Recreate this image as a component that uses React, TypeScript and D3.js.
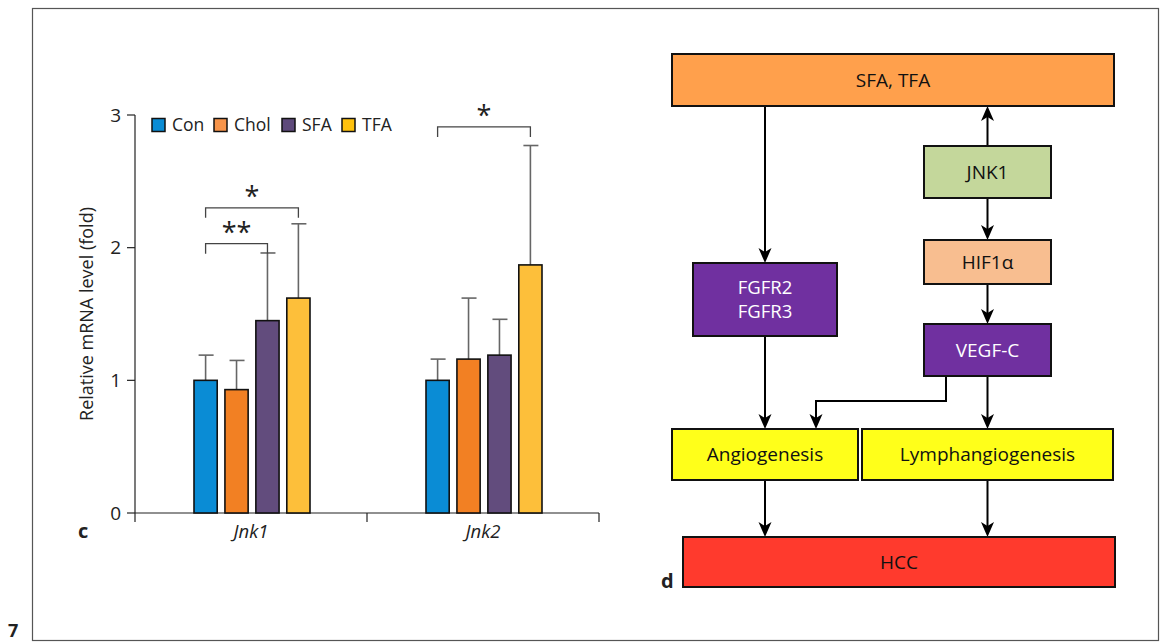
import * as d3 from "d3";

// chart c data
const GENES = ["Jnk1", "Jnk2"];
const GROUPS = ["Con", "Chol", "SFA", "TFA"];
const MEANS = [
  [1.0, 0.93, 1.45, 1.62],
  [1.0, 1.16, 1.19, 1.87],
];
const UPPER = [
  [1.19, 1.15, 1.96, 2.18],
  [1.16, 1.62, 1.46, 2.77],
];
const Y_TICKS = [0, 1, 2, 3];
// significance: gene index, from group, to group, label
const SIG = [
  { gene: 0, from: 0, to: 2, label: "**", level: 2.03 },
  { gene: 0, from: 0, to: 3, label: "*", level: 2.3 },
  { gene: 1, from: 0, to: 3, label: "*", level: 2.91 },
];

// diagram d nodes
const NODES = ["SFA, TFA", "JNK1", "HIF1α", "FGFR2\nFGFR3", "VEGF-C", "Angiogenesis", "Lymphangiogenesis", "HCC"];
const NODE_FILL = ["#ffa04c", "#c4d79b", "#f8be90", "#7030a0", "#7030a0", "#ffff1a", "#ffff1a", "#ff3a2d"];

const COLORS = ["#0a8cd5", "#f28023", "#624c7d", "#fdbf3a"];
const LEGEND_COLORS = ["#0a8cd5", "#f7944a", "#5e4a7b", "#ffc20e"];
const FONT = "'Open Sans', 'Noto Sans', sans-serif";

// node boxes [x0, y0, x1, y1]
const BOX: Record<string, [number, number, number, number]> = {
  "SFA, TFA": [672, 54, 1114, 106],
  JNK1: [924, 146, 1051, 198],
  "HIF1α": [924, 240, 1051, 284],
  "FGFR2\nFGFR3": [693, 263, 837, 336],
  "VEGF-C": [924, 324, 1051, 376],
  Angiogenesis: [672, 429, 858, 480],
  Lymphangiogenesis: [862, 429, 1113, 480],
  HCC: [683, 537, 1115, 587],
};

function Arrow({ pts }: { pts: [number, number][] }) {
  const line = d3.line();
  const [x1, y1] = pts[pts.length - 1];
  const [x0, y0] = pts[pts.length - 2];
  const dir = Math.sign(y1 - y0);
  const head = `M${x1},${y1} L${x1 - 6.5},${y1 - dir * 15} L${x1},${y1 - dir * 11} L${x1 + 6.5},${y1 - dir * 15} Z`;
  const shaft = pts.slice(0, -1).concat([[x1, y1 - dir * 11]]) as [number, number][];
  return (
    <g>
      <path d={line(shaft) ?? ""} fill="none" stroke="#000" strokeWidth={2} />
      <path d={head} fill="#000" />
    </g>
  );
}

export default function App() {
  const y = d3.scaleLinear().domain([0, 3]).range([513, 115]);
  const x = d3.scaleBand().domain(GENES).range([135, 599]);
  const xi = d3.scaleBand().domain(GROUPS).range([-57, 59]).paddingInner(0.25);
  const bw = xi.bandwidth();
  const cx = (g: number, s: number) => (x(GENES[g]) ?? 0) + x.bandwidth() / 2 + (xi(GROUPS[s]) ?? 0) + bw / 2;

  const b = BOX;
  const mid = (k: string) => (b[k][0] + b[k][2]) / 2;

  return (
    <div style={{ position: "absolute", left: 0, top: 0 }}>
      <svg width={1166} height={642} style={{ display: "block", fontFamily: FONT }}>
        <rect x={0} y={0} width={1166} height={642} fill="#fff" />
        <rect x={32.5} y={8.5} width={1126} height={632} fill="none" stroke="#555" strokeWidth={1.2} />
        <text x={8} y={637} fontSize={18} fontWeight={700} fill="#222">7</text>

        {/* panel c */}
        <g>
          {/* y axis */}
          <line x1={135} x2={135} y1={y(3)} y2={y(0)} stroke="#222" strokeWidth={1.2} />
          {Y_TICKS.map((t) => (
            <g key={t}>
              <line x1={127} x2={135} y1={y(t)} y2={y(t)} stroke="#222" strokeWidth={1.2} />
              <text x={121} y={y(t)} dy="0.35em" textAnchor="end" fontSize={19} fill="#222">{t}</text>
            </g>
          ))}
          {/* x axis */}
          <line x1={135} x2={599} y1={y(0)} y2={y(0)} stroke="#222" strokeWidth={1.2} />
          {[135, (x("Jnk2") ?? 0), 599].map((v, i) => (
            <line key={i} x1={v} x2={v} y1={y(0)} y2={y(0) + 9} stroke="#222" strokeWidth={1.2} />
          ))}
          {GENES.map((g) => (
            <text key={g} x={(x(g) ?? 0) + x.bandwidth() / 2} y={538} textAnchor="middle" fontSize={18.5} fontStyle="italic" fill="#222">{g}</text>
          ))}
          <text x={78} y={538} fontSize={20} fontWeight={700} fill="#222">c</text>
          <text transform={`translate(93,${y(1.5)}) rotate(-90)`} textAnchor="middle" fontSize={18} fill="#222">
            Relative mRNA level (fold)
          </text>

          {/* error bars */}
          {MEANS.map((row, g) =>
            row.map((m, s) => (
              <g key={`e${g}${s}`} stroke="#666" strokeWidth={1.6}>
                <line x1={cx(g, s)} x2={cx(g, s)} y1={y(m)} y2={y(UPPER[g][s])} />
                <line x1={cx(g, s) - 7} x2={cx(g, s) + 8} y1={y(UPPER[g][s])} y2={y(UPPER[g][s])} />
              </g>
            ))
          )}
          {/* bars */}
          {MEANS.map((row, g) =>
            row.map((m, s) => (
              <rect
                key={`b${g}${s}`}
                x={cx(g, s) - bw / 2}
                y={y(m)}
                width={bw}
                height={y(0) - y(m)}
                fill={COLORS[s]}
                stroke="#111"
                strokeWidth={1.6}
              />
            ))
          )}
          {/* significance */}
          {SIG.map((sg, i) => {
            const xa = cx(sg.gene, sg.from);
            const xb = cx(sg.gene, sg.to);
            const yy = y(sg.level);
            return (
              <g key={i}>
                <path d={`M${xa},${yy + 10} V${yy} H${xb} V${yy + 10}`} fill="none" stroke="#444" strokeWidth={1.3} />
                <text x={(xa + xb) / 2} y={yy - 2} textAnchor="middle" fontSize={27} fill="#222">{sg.label}</text>
              </g>
            );
          })}
          {/* legend */}
          {GROUPS.map((gName, i) => {
            const lx = [152, 214, 282, 342][i];
            return (
              <g key={gName}>
                <rect x={lx} y={118.5} width={13} height={13} fill={LEGEND_COLORS[i]} stroke="#111" strokeWidth={1.5} />
                <text x={lx + 20} y={131} fontSize={17.5} fill="#222">{gName}</text>
              </g>
            );
          })}
        </g>

        {/* panel d */}
        <g>
          <Arrow pts={[[765, b["SFA, TFA"][3]], [765, b["FGFR2\nFGFR3"][1]]]} />
          <Arrow pts={[[mid("JNK1"), b.JNK1[1]], [mid("JNK1"), b["SFA, TFA"][3]]]} />
          <Arrow pts={[[mid("JNK1"), b.JNK1[3]], [mid("JNK1"), b["HIF1α"][1]]]} />
          <Arrow pts={[[mid("JNK1"), b["HIF1α"][3]], [mid("JNK1"), b["VEGF-C"][1]]]} />
          <Arrow pts={[[765, b["FGFR2\nFGFR3"][3]], [765, b.Angiogenesis[1]]]} />
          <Arrow pts={[[mid("JNK1"), b["VEGF-C"][3]], [mid("JNK1"), b.Lymphangiogenesis[1]]]} />
          <Arrow pts={[[946, b["VEGF-C"][3]], [946, 401], [816, 401], [816, b.Angiogenesis[1]]]} />
          <Arrow pts={[[765, b.Angiogenesis[3]], [765, b.HCC[1]]]} />
          <Arrow pts={[[mid("JNK1"), b.Lymphangiogenesis[3]], [mid("JNK1"), b.HCC[1]]]} />

          {NODES.map((n, i) => {
            const [x0, y0, x1, y1] = b[n];
            const lines = n.split("\n");
            const white = NODE_FILL[i] === "#7030a0";
            return (
              <g key={n}>
                <rect x={x0} y={y0} width={x1 - x0} height={y1 - y0} fill={NODE_FILL[i]} stroke="#111" strokeWidth={2} />
                {lines.map((l, j) => (
                  <text
                    key={j}
                    x={(x0 + x1) / 2}
                    y={(y0 + y1) / 2 + (j - (lines.length - 1) / 2) * 24}
                    dy="0.35em"
                    textAnchor="middle"
                    fontSize={lines.length > 1 ? 18.5 : 19}
                    fill={white ? "#fff" : "#111"}
                  >
                    {l}
                  </text>
                ))}
              </g>
            );
          })}
          <text x={661} y={588} fontSize={20} fontWeight={700} fill="#222">d</text>
        </g>
      </svg>
    </div>
  );
}
